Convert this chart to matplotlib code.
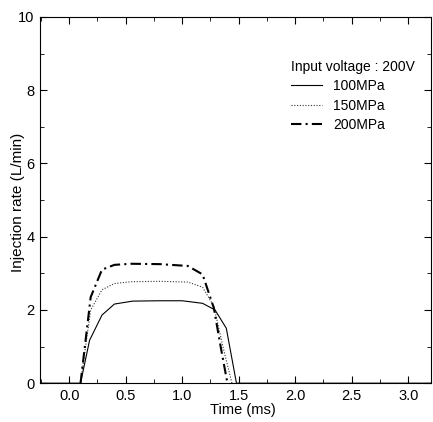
import matplotlib
matplotlib.use("Agg")
import matplotlib.pyplot as plt
from matplotlib.ticker import MultipleLocator, FormatStrFormatter

plt.rcParams['font.family'] = ['Liberation Sans', 'DejaVu Sans']

# time (ms) and injection rate (L/min)
t100 = [-0.25, 0.0, 0.1, 0.18, 0.29, 0.40, 0.56, 0.80, 1.00, 1.18, 1.29, 1.39, 1.48, 1.6, 3.2]
q100 = [0.0, 0.0, 0.0, 1.17, 1.86, 2.16, 2.24, 2.25, 2.25, 2.18, 2.0, 1.5, 0.0, 0.0, 0.0]

t150 = [0.1, 0.19, 0.29, 0.40, 0.55, 0.80, 1.05, 1.18, 1.28, 1.36, 1.44]
q150 = [0.0, 2.0, 2.55, 2.72, 2.77, 2.78, 2.76, 2.62, 2.1, 1.0, 0.0]

t200 = [0.1, 0.19, 0.29, 0.40, 0.55, 0.80, 1.05, 1.18, 1.28, 1.34, 1.40]
q200 = [0.0, 2.35, 3.1, 3.23, 3.26, 3.25, 3.2, 2.97, 2.05, 1.0, 0.0]

labels = ['100MPa', '150MPa', '200MPa']

fig = plt.figure(figsize=(4.33, 4.22), dpi=100)
ax = fig.add_axes([0.092, 0.092, 0.903, 0.868])

ax.plot(t100, q100, color='black', lw=0.8, ls='-', label=labels[0])
ax.plot(t150, q150, color='#333333', lw=0.8, ls=(0, (1, 1.5)), label=labels[1])
ax.plot(t200, q200, color='black', lw=1.5, ls=(0, (5, 2, 1, 2)), label=labels[2])

ax.set_xlim(-0.26, 3.2)
ax.set_ylim(0, 10)
ax.xaxis.set_major_locator(MultipleLocator(0.5))
ax.xaxis.set_minor_locator(MultipleLocator(0.25))
ax.yaxis.set_major_locator(MultipleLocator(2))
ax.yaxis.set_minor_locator(MultipleLocator(1))
ax.xaxis.set_major_formatter(FormatStrFormatter('%.1f'))
ax.tick_params(which='both', direction='in', top=True, right=True, labelsize=10.5)
ax.tick_params(which='major', length=5, pad=4)
ax.tick_params(which='minor', length=3)

ax.set_xlabel('Time (ms)', fontsize=10.5, labelpad=0)
ax.xaxis.set_label_coords(0.52, -0.055)
fig.text(0.042, 0.52, 'Injection rate (L/min)', rotation=90, fontsize=11,
         ha='center', va='center')

leg = ax.legend(title='Input voltage : 200V', loc='upper right', bbox_to_anchor=(0.985, 0.91),
                frameon=False, fontsize=10, title_fontsize=10, handlelength=2.2,
                handletextpad=0.8, labelspacing=0.4, borderpad=0.2)
leg._legend_box.align = 'left'

fig.savefig('out.png', dpi=100)
